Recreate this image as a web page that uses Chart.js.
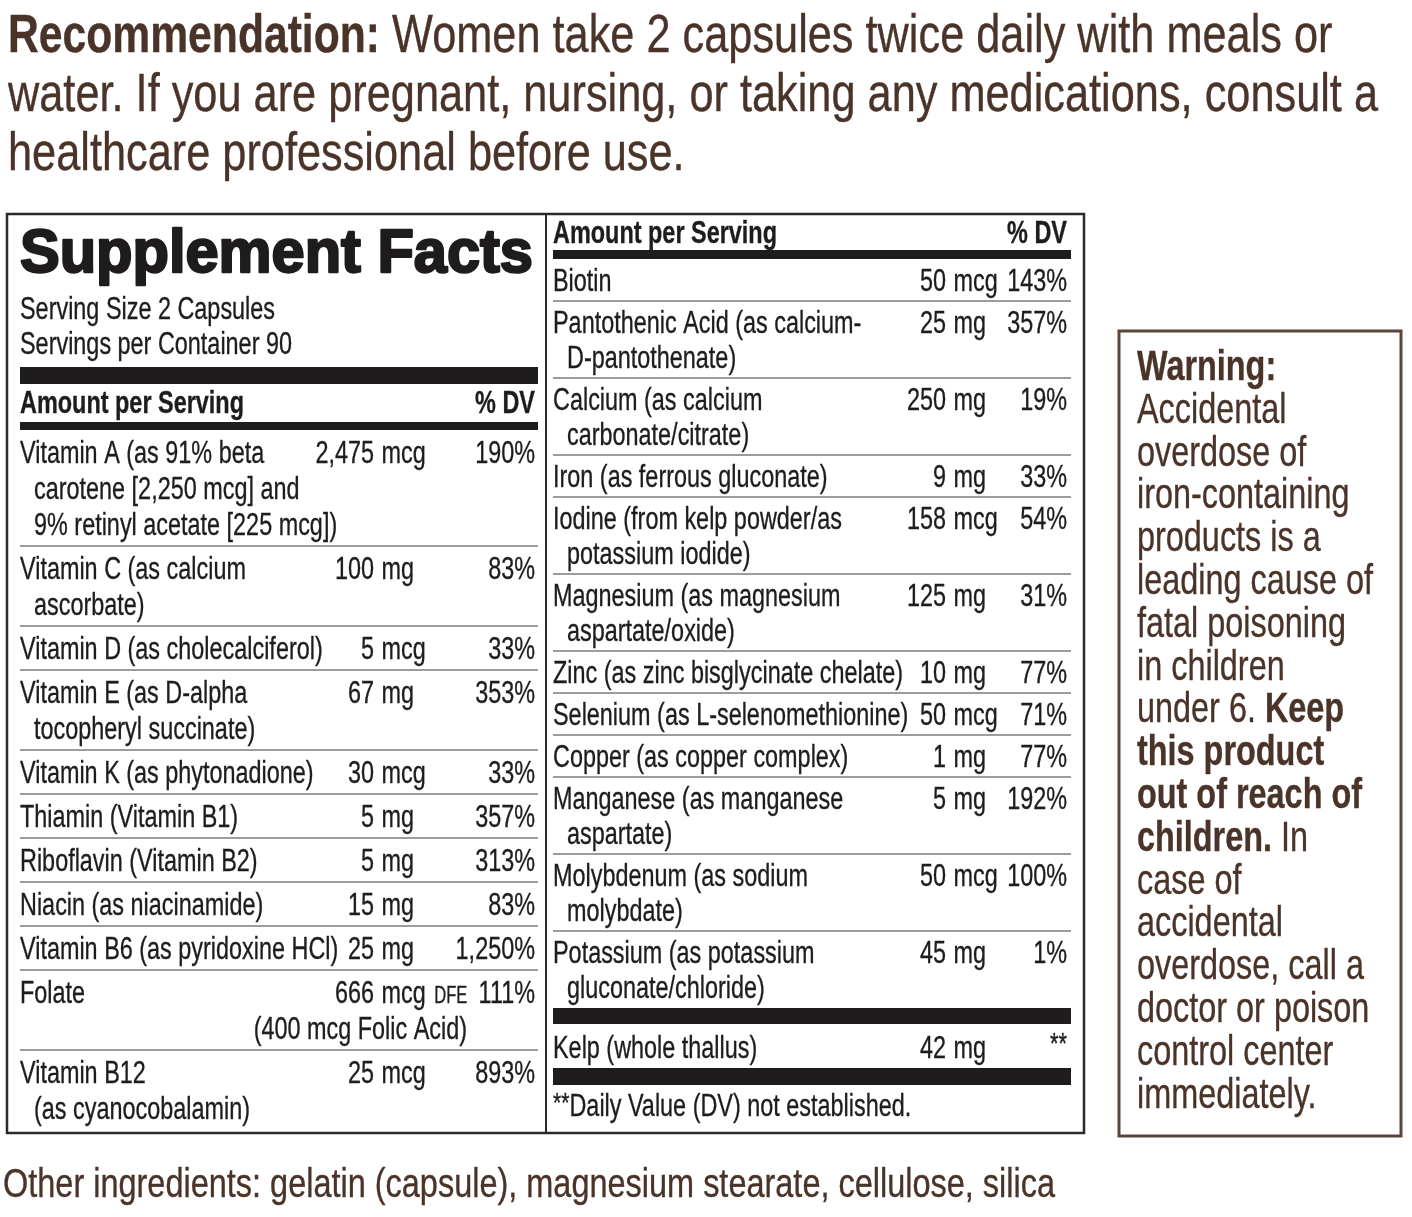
<!DOCTYPE html>
<html>
<head>
<meta charset="utf-8">
<script src="https://cdn.jsdelivr.net/npm/chart.js@4.4.1/dist/chart.umd.min.js"></script>
<style>
  html, body { margin: 0; padding: 0; background: #ffffff; }
  canvas { display: block; }
</style>
</head>
<body>
<canvas id="c" width="1412" height="1217"></canvas>
<script>
// ---------------- DATA ----------------
const recommendationBold = "Recommendation:";
const recommendationLines = [
  " Women take 2 capsules twice daily with meals or",
  "water. If you are pregnant, nursing, or taking any medications, consult a",
  "healthcare professional before use."
];
const title = "Supplement Facts";
const servingLines = ["Serving Size 2 Capsules", "Servings per Container 90"];
const headerLeft = "Amount per Serving";
const headerRight = "% DV";

const leftNames = [
  ["Vitamin A (as 91% beta", "carotene [2,250 mcg] and", "9% retinyl acetate [225 mcg])"],
  ["Vitamin C (as calcium", "ascorbate)"],
  ["Vitamin D (as cholecalciferol)"],
  ["Vitamin E (as D-alpha", "tocopheryl succinate)"],
  ["Vitamin K (as phytonadione)"],
  ["Thiamin (Vitamin B1)"],
  ["Riboflavin (Vitamin B2)"],
  ["Niacin (as niacinamide)"],
  ["Vitamin B6 (as pyridoxine HCl)"],
  ["Folate"],
  ["Vitamin B12", "(as cyanocobalamin)"]
];
const leftAmounts = ["2,475 mcg", "100 mg", "5 mcg", "67 mg", "30 mcg", "5 mg", "5 mg", "15 mg", "25 mg", "666 mcg DFE", "25 mcg"];
const leftDV = ["190%", "83%", "33%", "353%", "33%", "357%", "313%", "83%", "1,250%", "111%", "893%"];
const leftNotes = [null, null, null, null, null, null, null, null, null, "(400 mcg Folic Acid)", null];

const rightNames = [
  ["Biotin"],
  ["Pantothenic Acid (as calcium-", "D-pantothenate)"],
  ["Calcium (as calcium", "carbonate/citrate)"],
  ["Iron (as ferrous gluconate)"],
  ["Iodine (from kelp powder/as", "potassium iodide)"],
  ["Magnesium (as magnesium", "aspartate/oxide)"],
  ["Zinc (as zinc bisglycinate chelate)"],
  ["Selenium (as L-selenomethionine)"],
  ["Copper (as copper complex)"],
  ["Manganese (as manganese", "aspartate)"],
  ["Molybdenum (as sodium", "molybdate)"],
  ["Potassium (as potassium", "gluconate/chloride)"]
];
const rightAmounts = ["50 mcg", "25 mg", "250 mg", "9 mg", "158 mcg", "125 mg", "10 mg", "50 mcg", "1 mg", "5 mg", "50 mcg", "45 mg"];
const rightDV = ["143%", "357%", "19%", "33%", "54%", "31%", "77%", "71%", "77%", "192%", "100%", "1%"];

const otherName = "Kelp (whole thallus)";
const otherAmount = "42 mg";
const otherDV = "**";
const footnoteMark = "**";
const footnoteText = "Daily Value (DV) not established.";

// warning: each line is list of [text, bold]
const warningLines = [
  [["Warning:", true]],
  [["Accidental", false]],
  [["overdose of", false]],
  [["iron-containing", false]],
  [["products is a", false]],
  [["leading cause of", false]],
  [["fatal poisoning", false]],
  [["in children", false]],
  [["under 6. ", false], ["Keep", true]],
  [["this product", true]],
  [["out of reach of", true]],
  [["children.", true], [" In", false]],
  [["case of", false]],
  [["accidental", false]],
  [["overdose, call a", false]],
  [["doctor or poison", false]],
  [["control center", false]],
  [["immediately.", false]]
];
const otherIngredients = "Other ingredients: gelatin (capsule), magnesium stearate, cellulose, silica";

// ---------------- STYLE ----------------
const FONT = "'Liberation Sans Narrow','Liberation Sans','DejaVu Sans Condensed',Arial,sans-serif";
const BROWN = "#4a3328";
const INK = "#1f1c1d";

const labelPlugin = {
  id: 'labelPlugin',
  afterDraw(chart) {
    const ctx = chart.ctx;
    const X = v => chart.scales.x.getPixelForValue(v);
    const Y = v => chart.scales.y.getPixelForValue(v);

    function setFont(size, weight) { ctx.font = `${weight} ${size}px ${FONT}`; }
    function measure(str, size, weight) { setFont(size, weight); return ctx.measureText(str).width; }
    function calib(str, size, weight, target) { return target / measure(str, size, weight); }
    function txt(str, x, y, size, weight, k, align, color, stroke) {
      ctx.save();
      setFont(size, weight);
      ctx.fillStyle = color;
      ctx.textBaseline = 'alphabetic';
      ctx.textAlign = align || 'left';
      ctx.translate(X(x), Y(y));
      ctx.scale(k, 1);
      ctx.fillText(str, 0, 0);
      const sw = stroke === undefined ? 0.35 : stroke;
      if (sw) { ctx.strokeStyle = color; ctx.lineWidth = sw; ctx.lineJoin = 'round'; ctx.strokeText(str, 0, 0); }
      ctx.restore();
      return measure(str, size, weight) * k;
    }
    function rect(x0, y0, x1, y1, color) {
      ctx.fillStyle = color;
      ctx.fillRect(X(x0), Y(y0), X(x1) - X(x0), Y(y1) - Y(y0));
    }
    function hline(x0, x1, y, w, color) {
      ctx.strokeStyle = color; ctx.lineWidth = w;
      ctx.beginPath(); ctx.moveTo(X(x0), Y(y)); ctx.lineTo(X(x1), Y(y)); ctx.stroke();
    }

    // ---- Recommendation ----
    const RS = 53;
    const kRB = calib(recommendationBold, RS, 'bold', 372);
    const kR = calib(recommendationLines[1], RS, 'normal', 1370);
    const wB = txt(recommendationBold, 8, 52, RS, 'bold', kRB, 'left', BROWN);
    txt(recommendationLines[0], 8 + wB, 52, RS, 'normal', kR, 'left', BROWN);
    txt(recommendationLines[1], 8, 111, RS, 'normal', kR, 'left', BROWN);
    txt(recommendationLines[2], 8, 170, RS, 'normal', kR, 'left', BROWN);

    // ---- Table box ----
    ctx.strokeStyle = "#2a2a2a"; ctx.lineWidth = 2.5;
    ctx.strokeRect(X(7), Y(214), X(1084) - X(7), Y(1133) - Y(214));
    ctx.lineWidth = 2;
    ctx.beginPath(); ctx.moveTo(X(546), Y(214)); ctx.lineTo(X(546), Y(1133)); ctx.stroke();

    const TS = 31;
    const kT = calib("Zinc (as zinc bisglycinate chelate)", TS, 'normal', 350);
    const kTB = calib(headerLeft, TS, 'bold', 224);
    const kTitle = calib(title, 61, 'bold', 513);

    // left column header
    txt(title, 20, 272, 61, 'bold', kTitle, 'left', INK, 2.4);
    txt(servingLines[0], 20, 319, TS, 'normal', kT, 'left', INK);
    txt(servingLines[1], 20, 354, TS, 'normal', kT, 'left', INK);
    rect(20, 367, 538, 384, INK);
    txt(headerLeft, 20, 413, TS, 'bold', kTB, 'left', INK);
    txt(headerRight, 535, 413, TS, 'bold', kTB, 'right', INK);
    rect(20, 422, 538, 430, INK);

    function drawAmount(str, numRight, y) {
      const parts = str.split(' ');
      txt(parts[0], numRight, y, TS, 'normal', kT, 'right', INK);
      const sp = measure(' ', TS, 'normal') * kT + 1;
      let x = numRight + sp;
      x += txt(parts[1], x, y, TS, 'normal', kT, 'left', INK);
      if (parts[2]) {
        x += sp + 1;
        txt(parts[2], x, y, 23, 'normal', kT * 0.95, 'left', INK);
      }
    }

    // left rows
    let top = 430;
    const L_BASE = 44, L_LINE = 36;
    leftNames.forEach((lines, i) => {
      const nLines = lines.length + (leftNotes[i] ? 1 : 0);
      const base = top + 33;
      lines.forEach((ln, j) => {
        txt(ln, j === 0 ? 20 : 34, base + j * L_LINE, TS, 'normal', kT, 'left', INK);
      });
      drawAmount(leftAmounts[i], 374, base);
      txt(leftDV[i], 535, base, TS, 'normal', kT, 'right', INK);
      if (leftNotes[i]) txt(leftNotes[i], 467, base + L_LINE, TS, 'normal', kT, 'right', INK);
      top += L_BASE + L_LINE * (nLines - 1);
      if (i < leftNames.length - 1) hline(20, 538, top, 1.2, "#3a3a3a");
    });

    // right column header
    txt(headerLeft, 553, 243, TS, 'bold', kTB, 'left', INK);
    txt(headerRight, 1067, 243, TS, 'bold', kTB, 'right', INK);
    rect(553, 250, 1071, 259, INK);

    top = 259;
    const R_BASE = 42, R_LINE = 35;
    rightNames.forEach((lines, i) => {
      const base = top + 32;
      lines.forEach((ln, j) => {
        txt(ln, j === 0 ? 553 : 567, base + j * R_LINE, TS, 'normal', kT, 'left', INK);
      });
      drawAmount(rightAmounts[i], 946, base);
      txt(rightDV[i], 1067, base, TS, 'normal', kT, 'right', INK);
      top += R_BASE + R_LINE * (lines.length - 1);
      if (i < rightNames.length - 1) hline(553, 1071, top, 1.2, "#3a3a3a");
    });
    rect(553, 1008, 1071, 1024, INK);
    txt(otherName, 553, 1058, TS, 'normal', kT, 'left', INK);
    drawAmount(otherAmount, 946, 1058);
    txt(otherDV, 1067, 1053, 29, 'normal', kT, 'right', INK);
    rect(553, 1068, 1071, 1085, INK);
    const wm = txt(footnoteMark, 553, 1112, 28, 'normal', kT, 'left', INK);
    txt(footnoteText, 553 + wm, 1116, TS, 'normal', kT, 'left', INK);

    // ---- Warning box ----
    ctx.strokeStyle = "#5a463c"; ctx.lineWidth = 3;
    ctx.strokeRect(X(1119), Y(331), X(1401) - X(1119), Y(1136) - Y(331));
    const WS = 42;
    const kW = calib("leading cause of", WS, 'normal', 236);
    const kWB = calib("out of reach of", WS, 'bold', 225);
    warningLines.forEach((segs, i) => {
      let x = 1137;
      const y = 380 + i * 42.8;
      segs.forEach(([s, b]) => {
        x += txt(s, x, y, WS, b ? 'bold' : 'normal', b ? kWB : kW, 'left', BROWN);
      });
    });

    // ---- Other ingredients ----
    const kO = calib(otherIngredients, 40, 'normal', 1052);
    txt(otherIngredients, 3, 1197, 40, 'normal', kO, 'left', BROWN);
  }
};

new Chart(document.getElementById('c').getContext('2d'), {
  type: 'scatter',
  data: { datasets: [] },
  options: {
    responsive: false,
    animation: false,
    events: [],
    layout: { padding: 0 },
    plugins: { legend: { display: false }, tooltip: { enabled: false } },
    scales: {
      x: { type: 'linear', min: 0, max: 1412, display: false },
      y: { type: 'linear', min: 0, max: 1217, reverse: true, display: false }
    }
  },
  plugins: [labelPlugin]
});
</script>
</body>
</html>
